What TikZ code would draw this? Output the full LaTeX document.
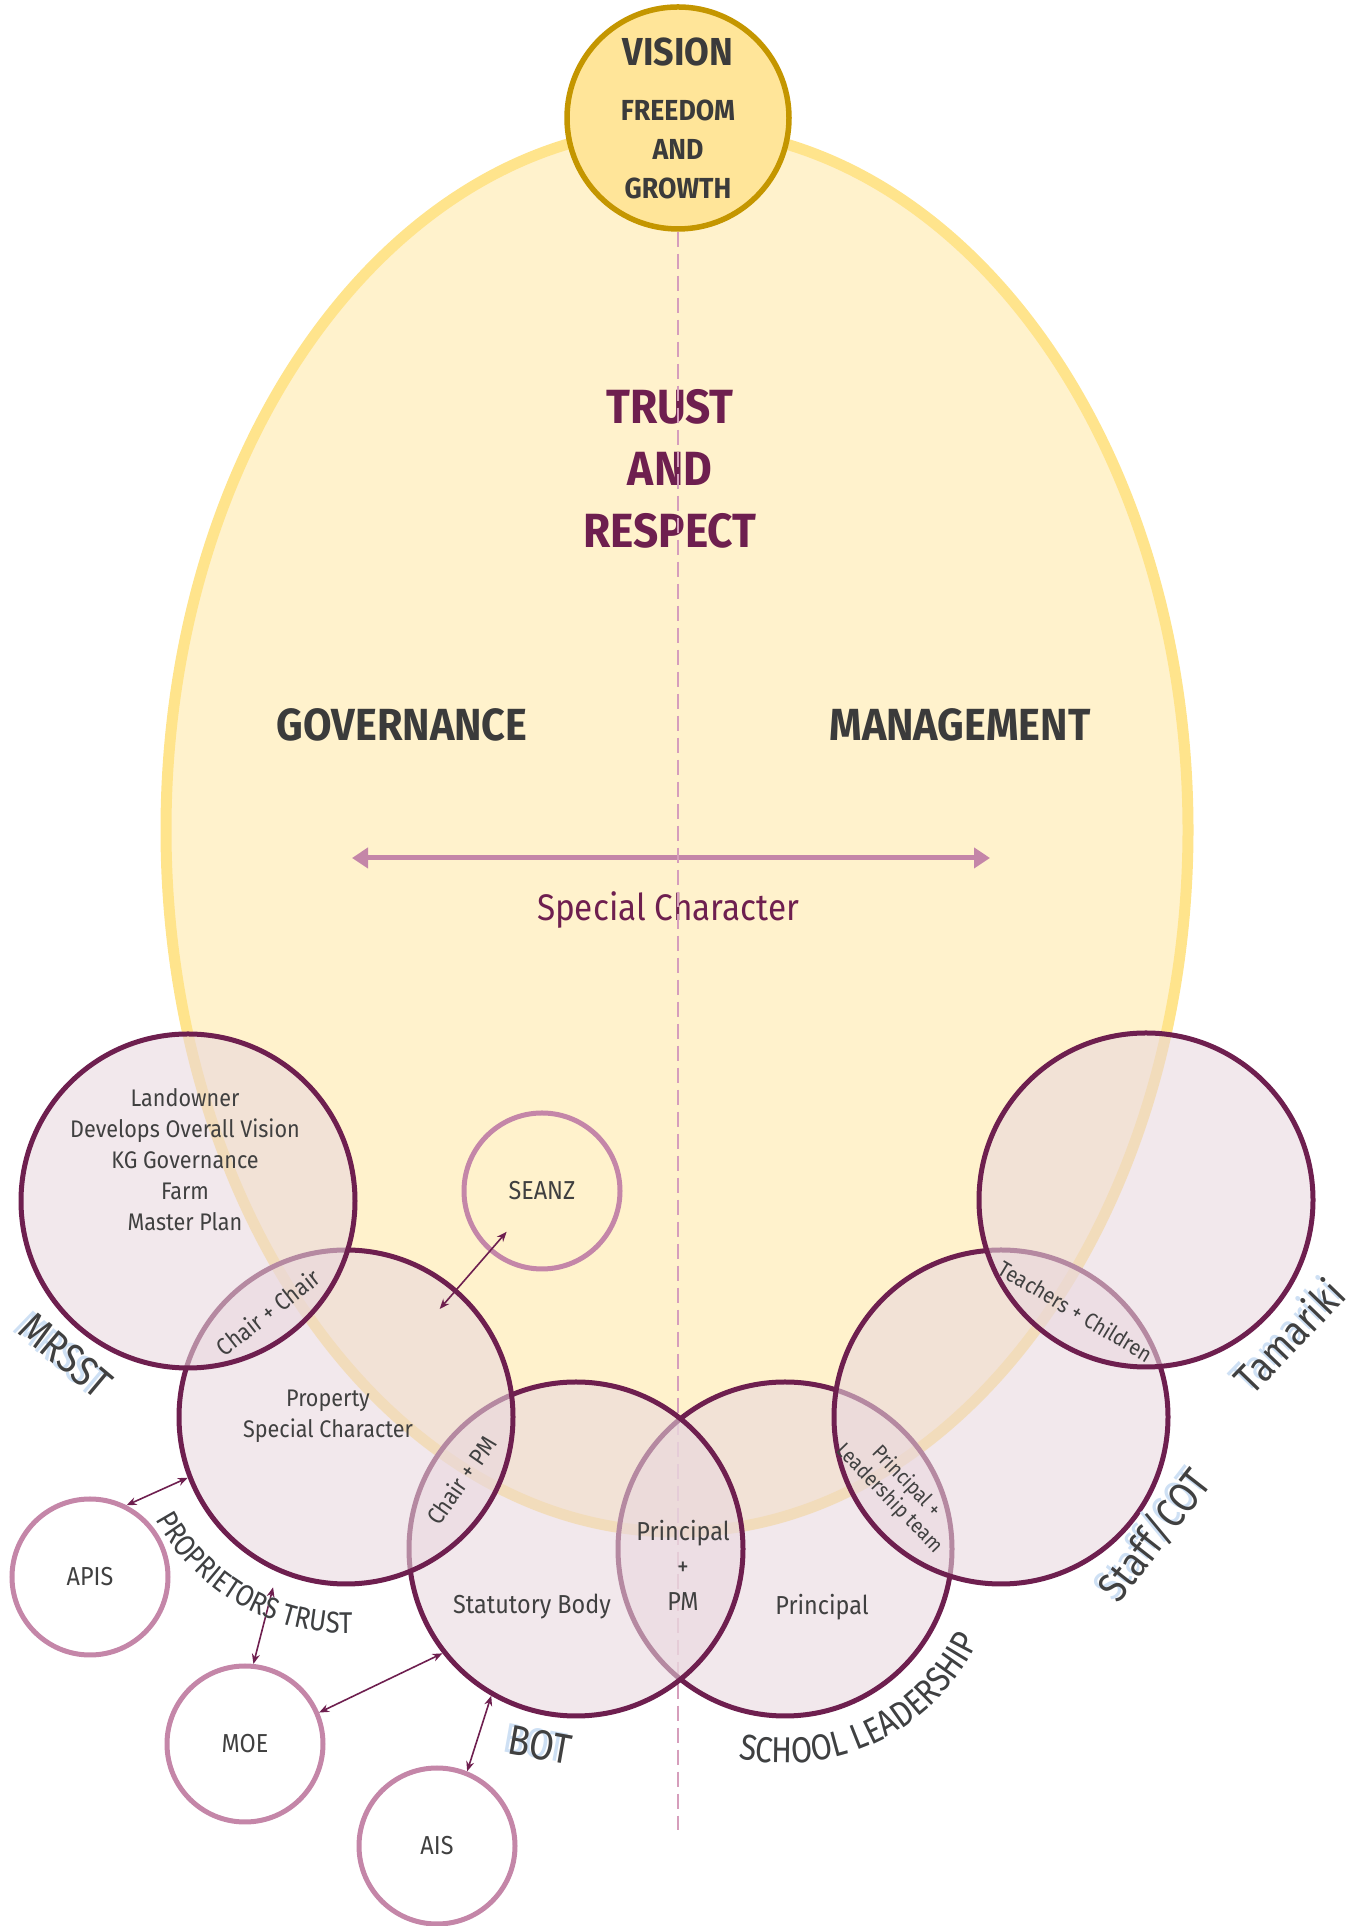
\documentclass[tikz,border=0pt]{standalone}
\usepackage{fontspec}
\setmainfont{Fira Sans}
\newfontfamily\bodyfont[FakeStretch=0.9]{Fira Sans}
\newfontfamily\headfont[FakeStretch=0.92]{Fira Sans}
\newfontfamily\lblfont[FakeStretch=0.85]{Fira Sans}
\usetikzlibrary{shapes.geometric,arrows.meta,decorations.text,calc}

\definecolor{yellowfill}{RGB}{255,242,204}
\definecolor{yellowline}{RGB}{255,228,140}
\definecolor{visionfill}{RGB}{255,229,153}
\definecolor{visionline}{RGB}{196,150,0}
\definecolor{plum}{RGB}{110,31,79}
\definecolor{mauve}{RGB}{196,134,168}
\definecolor{dashpink}{RGB}{214,158,188}
\definecolor{pinkfill}{RGB}{233,215,222}
\definecolor{textgray}{RGB}{64,64,64}
\definecolor{headgray}{RGB}{59,59,59}
\definecolor{shadowblue}{RGB}{206,224,244}

\newcommand\fsz[2]{\fontsize{#1pt}{#2pt}\selectfont}
\newcommand\ptcurvefont{\lblfont\fontsize{30pt}{30pt}\selectfont}
\newcommand\slcurvefont{\lblfont\fontsize{36pt}{36pt}\selectfont}

% outer label with a light blue copy behind it
\newcommand\shadowlabel[5]{%
  \node[outershadow, rotate=#4] (#1-sh) at (#2-5,#3+2) {#5};
  \node[outer, rotate=#4] (#1) at (#2,#3) {#5};
}

\tikzset{
  bigring/.style={circle, draw=plum, line width=5pt, fill=pinkfill, fill opacity=0.58,
    minimum size=334pt, inner sep=0pt},
  smallring/.style={circle, draw=mauve, line width=5pt, minimum size=156pt, inner sep=0pt,
    font=\bodyfont\fsz{26}{30}, text=textgray},
  ringtext/.style={font=\bodyfont\fsz{24}{31}, text=textgray, align=center},
  heading/.style={font=\headfont\bfseries\fsz{45}{45}, text=headgray},
  outer/.style={font=\lblfont\fsz{42}{42}, text=textgray},
  outershadow/.style={outer, text=shadowblue},
  link/.style={draw=plum, line width=1.6pt, {Stealth[length=10pt,width=8pt]}-{Stealth[length=10pt,width=8pt]}},
  scarrow/.style={draw=mauve, line width=5pt, {Triangle[length=16pt,width=20pt]}-{Triangle[length=16pt,width=20pt]}},
  divider/.style={draw=dashpink, line width=2pt, dash pattern=on 15pt off 7pt},
  curved/.style={decorate, decoration={text along path, text align=center}},
}

\begin{document}
\begin{tikzpicture}[x=1pt, y=1pt]

\useasboundingbox (0,0) rectangle (1357,1926);

\node[ellipse, draw=yellowline, line width=11pt, fill=yellowfill, minimum width=1022pt,
  minimum height=1404pt, inner sep=0pt] (field) at (677,1096) {};

\node[heading, text=plum, align=center, font=\headfont\bfseries\fsz{48}{62}] (trust) at (670,1457) {TRUST\\AND\\RESPECT};
\node[heading] (gov) at (402,1201) {GOVERNANCE};
\node[heading] (mgmt) at (960,1201) {MANAGEMENT};

\coordinate (sc-west) at (352,1068);
\coordinate (sc-east) at (990,1068);
\draw[scarrow] (sc-west) -- (sc-east);
\node[font=\bodyfont\fsz{37}{37}, text=plum] (special) at (668,1016) {Special Character};

\node[circle, draw=visionline, line width=5.5pt, fill=visionfill, minimum size=222pt, inner sep=0pt,
  align=center, text=headgray, font=\headfont\bfseries\fsz{29}{39}] (vision) at (678,1808)
  {{\fsz{39}{39}VISION}\\[16pt]FREEDOM\\AND\\GROWTH};

\coordinate (divide-end) at (678,96);
\draw[divider] (vision.south) -- (divide-end);

\node[bigring] (sl) at (785,377) {};
\node[bigring] (staff) at (1001,509) {};
\node[bigring] (tamariki) at (1146,726) {};
\node[bigring] (bot) at (576,377) {};
\node[bigring] (pt) at (346,509) {};
\node[bigring] (mrsst) at (188,725) {};

\node[smallring] (seanz) at (542,735) {SEANZ};
\node[smallring] (apis) at (90,349) {APIS};
\node[smallring] (moe) at (245,182) {MOE};
\node[smallring] (ais) at (437,80) {AIS};

\node[ringtext] (mrsst-txt) at (185,766) {Landowner\\Develops Overall Vision\\KG Governance\\Farm\\Master Plan};
\node[ringtext] (pt-txt) at (328,510) {Property\\Special Character};
\node[ringtext, font=\bodyfont\fsz{26}{35}] (bot-txt) at (532,319) {Statutory Body};
\node[ringtext, font=\bodyfont\fsz{26}{35}] (sl-txt) at (822,319) {Principal};
\node[ringtext, font=\bodyfont\fsz{26}{35}] (bot-sl) at (683,361) {Principal\\+\\PM};
\node[ringtext, rotate=38] (mrsst-pt) at (268,614) {Chair + Chair};
\node[ringtext, rotate=55] (pt-bot) at (461,446) {Chair + PM};
\node[ringtext, rotate=-46, font=\bodyfont\fsz{21}{24}] (sl-staff) at (898,436) {Principal +\\Leadership team};
\node[ringtext, rotate=-31, font=\bodyfont\fsz{22}{26}] (staff-tamariki) at (1076,615) {Teachers + Children};

\draw[link, shorten <=54pt, shorten >=143pt] (seanz.center) -- (pt.center);
\draw[link] (apis.63) -- (pt.201);
\draw[link, shorten >=16pt] (moe.84) -- (pt.246);
\draw[link] (moe.23) -- (bot.218);
\draw[link] (ais.68) -- (bot.240);

\shadowlabel{mrsst-lbl}{66}{571}{-40}{MRSST}
\shadowlabel{tamariki-lbl}{1289}{590}{46}{Tamariki}
\shadowlabel{staff-lbl}{1154}{391}{52}{Staff/COT}
\shadowlabel{bot-lbl}{540}{181}{-10}{BOT}

\path[curved, decoration={text={|\ptcurvefont|PROPRIETORS TRUST}, text color=shadowblue}, xshift=-5pt, yshift=2pt]
  ($(pt.center)+(200:216)$) arc[start angle=200, end angle=280, radius=216];
\path[curved, decoration={text={|\ptcurvefont|PROPRIETORS TRUST}, text color=textgray}]
  ($(pt.center)+(200:216)$) arc[start angle=200, end angle=280, radius=216];
\path[curved, decoration={text={|\slcurvefont|SCHOOL LEADERSHIP}, text color=shadowblue}, xshift=-5pt, yshift=2pt]
  ($(sl.center)+(250:214)$) arc[start angle=250, end angle=342, radius=214];
\path[curved, decoration={text={|\slcurvefont|SCHOOL LEADERSHIP}, text color=textgray}]
  ($(sl.center)+(250:214)$) arc[start angle=250, end angle=342, radius=214];

\end{tikzpicture}
\end{document}
